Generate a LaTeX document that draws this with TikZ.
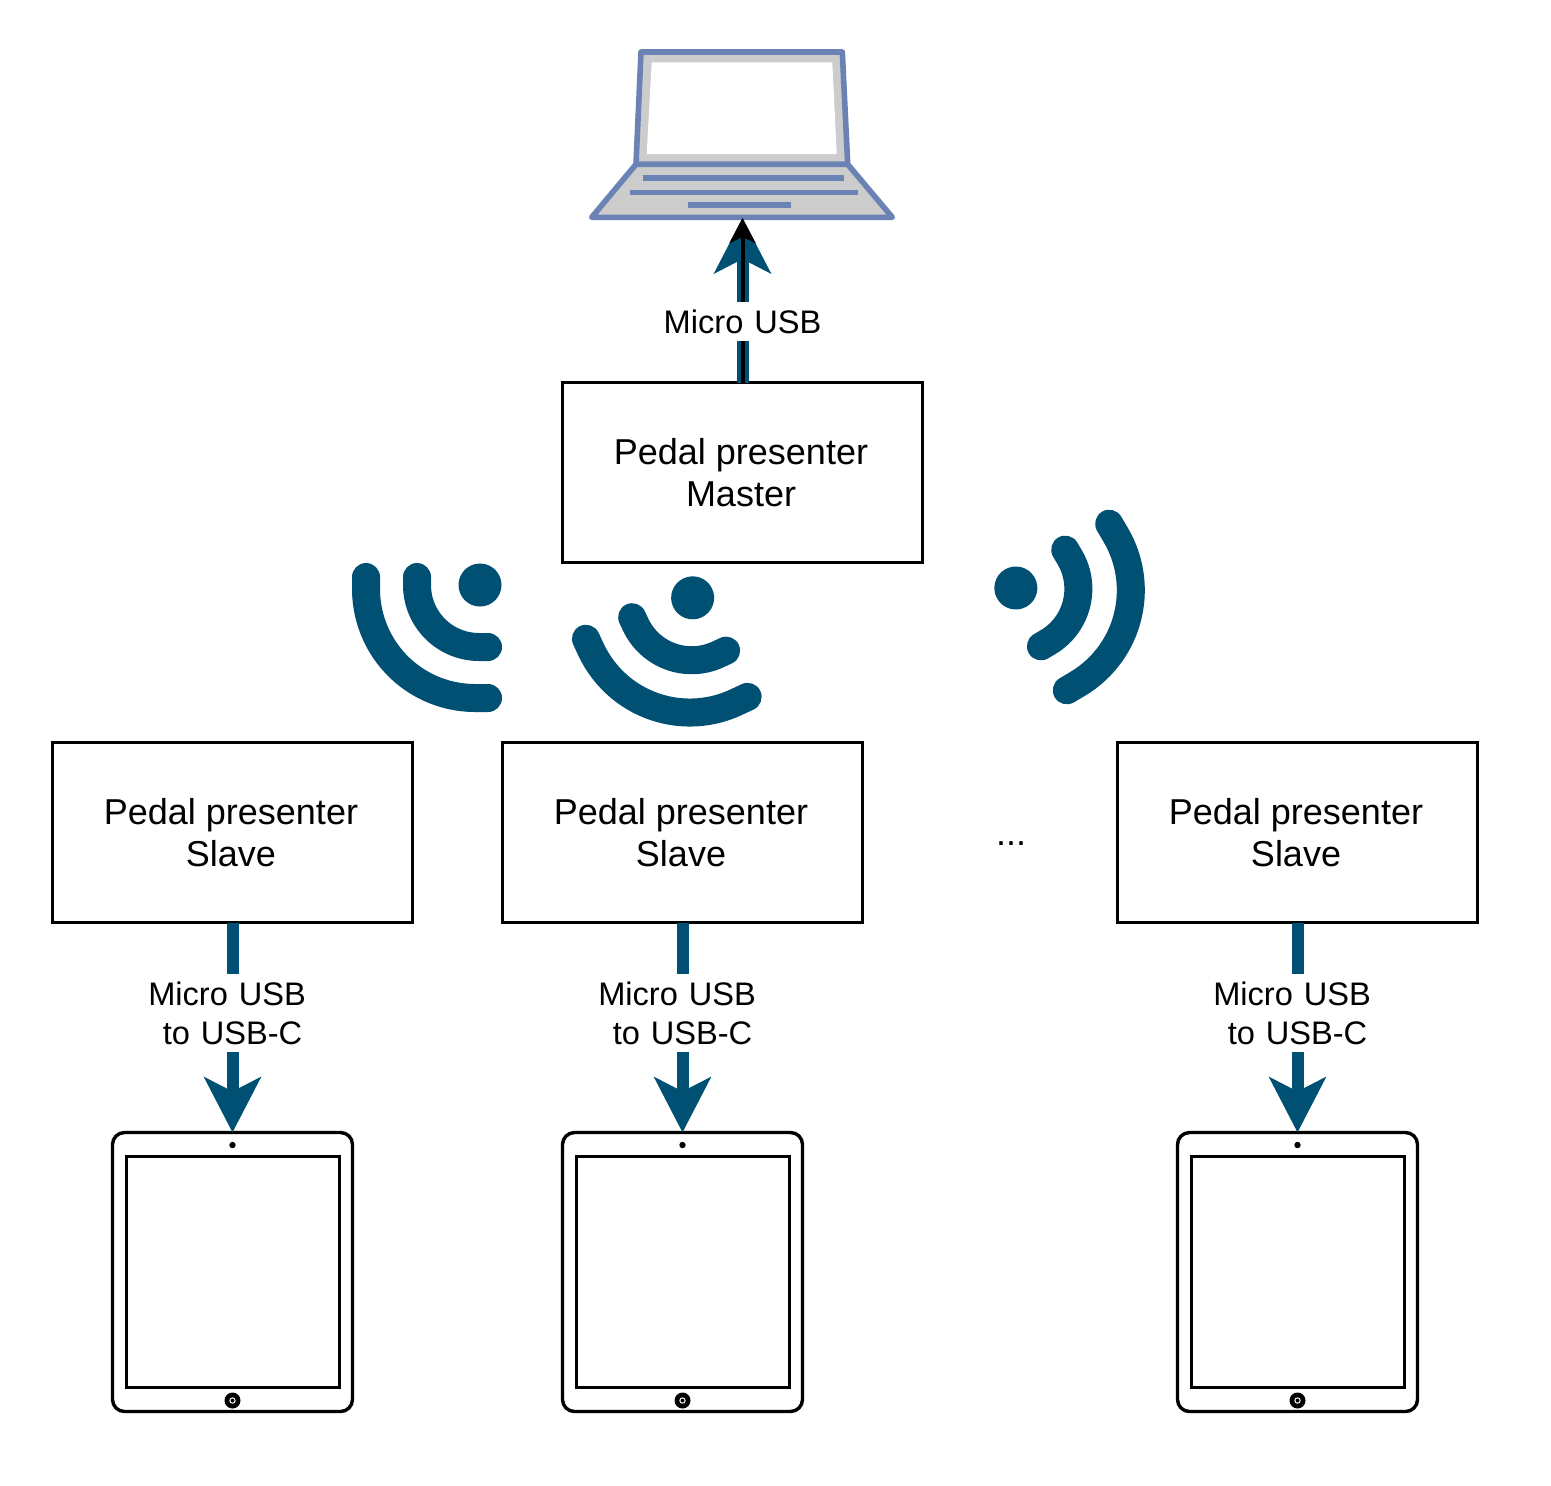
\documentclass[tikz,border=0pt]{standalone}
\usepackage{fontspec}
\setmainfont{Liberation Sans}
\usetikzlibrary{arrows.meta}
\definecolor{teal}{RGB}{0,80,115}
\definecolor{lapblue}{RGB}{106,130,180}
\definecolor{lapgray}{RGB}{204,204,204}
\tikzset{
  box/.style={draw=black,line width=1.5pt,fill=white,minimum width=180pt,minimum height=90pt,
    inner sep=0pt,outer sep=0pt,align=center,font=\fontsize{18}{21}\selectfont},
  cable/.style={draw=teal,line width=6pt,-{Stealth[length=27.5pt,width=28pt,inset=7pt]}},
  thinwire/.style={draw=black,line width=2pt,-{Stealth[length=12.5pt,width=13pt,inset=3pt]}},
  usblabel/.style={fill=white,inner sep=0pt,outer sep=0pt,align=center,text width=85pt,
    font=\fontsize{16.3}{19.5}\selectfont},
  sig/.style={draw=teal,line width=14pt,line cap=round,line join=round},
  sigdot/.style={fill=teal},
  lap/.style={draw=lapblue,line width=2.8pt,line join=round,line cap=round},
  lapkey/.style={draw=lapblue,line width=2.8pt},
  tabbody/.style={draw=black,line width=1.7pt,rounded corners=6pt,minimum width=120pt,minimum height=139.5pt,
    fill=white,inner sep=0pt,outer sep=0pt},
  tabscreen/.style={draw=black,line width=1.5pt,minimum width=106.5pt,minimum height=115.5pt,
    inner sep=0pt,outer sep=0pt},
}
\newcommand{\bx}[2]{#1\rule{1.5pt}{0pt}\\#2\rule{1.5pt}{0pt}}
% wave icon: reference point x, y, rotation
\newcommand{\waveicon}[3]{%
  \begin{scope}[shift={(#1,#2)},rotate=#3]
    \draw[sig] (-70,0) -- plot[domain=180:90,samples=30] ({-8+62*cos(\x)},{8+62*sin(\x)}) -- (1,70);
    \draw[sig] (-121,0) -- plot[domain=180:90,samples=30] ({-12+109*cos(\x)},{12+109*sin(\x)}) -- (1,121);
    \fill[sigdot] (-7,8) circle[radius=10.75pt];
  \end{scope}}
\newcommand{\tablet}[2]{%
  \begin{scope}[shift={(#2,0)}]
    \node[tabbody] (#1) at (0,1272) {};
    \node[tabscreen] (#1s) at (0,1271.5) {};
    \fill[black] (0,1145) circle[radius=1.6pt];
    \fill[black] (0,1400.5) circle[radius=4pt];
    \fill[white] (0,1400.5) circle[radius=1.6pt];
    \fill[black] (0,1400.5) circle[radius=1pt];
  \end{scope}}
\begin{document}
\begin{tikzpicture}[x=0.5pt,y=-0.5pt]
\useasboundingbox (0,0) rectangle (1551,1485);
\fill[white] (0,0) rectangle (1551,1485);
% laptop
\draw[lap,fill=lapgray] (641,52) -- (842.3,52) -- (847.7,164.3) -- (636,164.3) -- cycle;
\fill[white] (651.7,62.3) -- (832.3,62.3) -- (836.7,154) -- (646.7,154) -- cycle;
\draw[lap,fill=lapgray] (636,164.3) -- (847.7,164.3) -- (892.3,217.3) -- (591.7,217.3) -- cycle;
\draw[lapkey] (643.3,177.7) -- (844.3,177.7);
\draw[lapkey] (630,192.3) -- (857.7,192.3);
\draw[lapkey] (687.7,205) -- (791,205);
\coordinate (laptop) at (742.5,218);
% boxes
\node[box] (master) at (742.5,472.5) {\bx{Pedal presenter}{Master}};
\node[box] (slaveA) at (232.5,832.5) {\bx{Pedal presenter}{Slave}};
\node[box] (slaveB) at (682.5,832.5) {\bx{Pedal presenter}{Slave}};
\node[box] (slaveC) at (1297.5,832.5) {\bx{Pedal presenter}{Slave}};
\node[font=\fontsize{18}{21}\selectfont,inner sep=0pt] (dots) at (1011,844) {...};
% tablets
\tablet{tabA}{232.5}
\tablet{tabB}{682.5}
\tablet{tabC}{1297.5}
% connectors
\draw[cable] (master.north) -- (laptop);
\draw[thinwire] (master.north) -- node[pos=0.37,usblabel,minimum height=19.5pt] (lblM) {Micro USB} (laptop);
\draw[cable] (slaveA.south) -- node[pos=0.433,usblabel,minimum height=39pt] (lblA) {Micro USB\ \mbox{}\\to USB-C} (tabA.north);
\draw[cable] (slaveB.south) -- node[pos=0.433,usblabel,minimum height=39pt] (lblB) {Micro USB\ \mbox{}\\to USB-C} (tabB.north);
\draw[cable] (slaveC.south) -- node[pos=0.433,usblabel,minimum height=39pt] (lblC) {Micro USB\ \mbox{}\\to USB-C} (tabC.north);
% wave icons
\waveicon{487}{577}{0}
\waveicon{695.6}{587.6}{25}
\waveicon{1005.4}{586}{120.5}
\end{tikzpicture}
\end{document}
